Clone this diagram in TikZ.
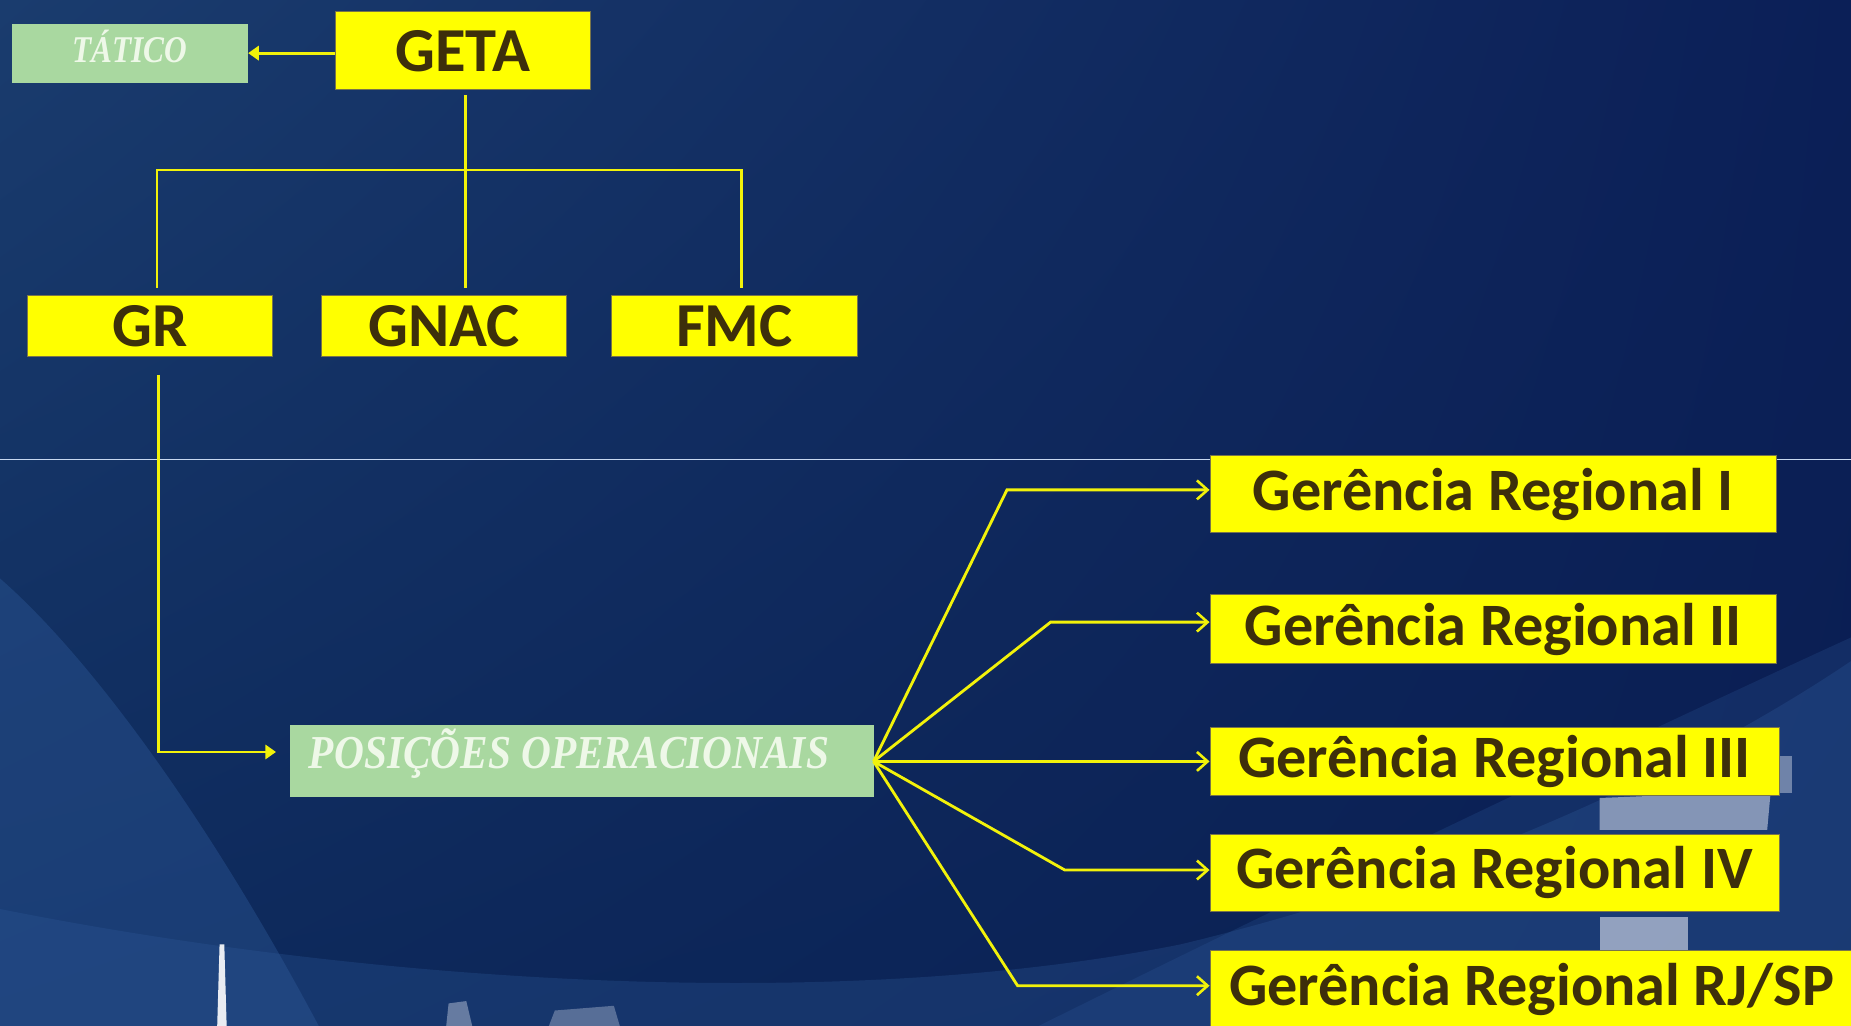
\documentclass[tikz,border=0pt]{standalone}
\usepackage{fontspec}
\setmainfont{Carlito}
\newfontfamily\serifit{Liberation Serif}
\usetikzlibrary{arrows.meta,shadings}
\definecolor{bgA}{HTML}{1A3C6E}
\definecolor{bgB}{HTML}{0B1F57}
\definecolor{bgC}{HTML}{0D2A5C}
\definecolor{bgD}{HTML}{0A1E52}
\definecolor{boxY}{HTML}{FFFF00}
\definecolor{txtB}{HTML}{3D2F0B}
\definecolor{boxG}{HTML}{A9D8A0}
\definecolor{txtG}{HTML}{EEF8E8}
\definecolor{lineY}{HTML}{F2F20A}
\definecolor{sepL}{HTML}{C8D8F0}
\definecolor{mesh}{HTML}{2E5A9A}
\definecolor{bldg}{HTML}{A8B4CC}
\tikzset{
  ybox/.style={draw=black!60!yellow, line width=0.8pt, fill=boxY, text=txtB, font=\bfseries\fontsize{53}{53}\selectfont, inner sep=0pt, anchor=center},
  gerbox/.style={ybox, font=\bfseries\fontsize{51}{51}\selectfont},
  gbox/.style={fill=boxG, text=txtG, inner sep=0pt, anchor=center},
  conn/.style={draw=lineY, line width=2.4pt},
  chev/.style={conn, -{Straight Barb[length=9pt,width=16pt,line width=2.2pt]}},
  tri/.style={conn, -{Triangle[length=9pt,width=12pt]}}
}
\begin{document}
\begin{tikzpicture}[x=1pt,y=-1pt]
\useasboundingbox (0,0) rectangle (1568,869);
% background
\shade[upper left=bgA, upper right=bgB, lower left=bgC, lower right=bgD] (0,0) rectangle (1568,869);
% decorative swooshes
\fill[mesh, opacity=0.4] (0,490) .. controls (80,560) and (180,700) .. (270,869) -- (0,869) -- cycle;
\fill[mesh, opacity=0.3] (0,770) .. controls (300,830) and (700,860) .. (1000,800) .. controls (1250,740) and (1450,640) .. (1568,560) -- (1568,869) -- (0,869) -- cycle;
\fill[mesh, opacity=0.25] (880,869) .. controls (1100,760) and (1350,640) .. (1568,540) -- (1568,869) -- cycle;
% buildings hints
\fill[bldg, opacity=0.75] (1355,676) -- (1500,670) -- (1497,703) -- (1355,703) -- cycle;
\fill[bldg, opacity=0.85] (1355,777) rectangle (1430,805);
\fill[bldg, opacity=0.6] (1508,640) rectangle (1518,672);
\fill[white, opacity=0.9] (186,800) -- (190,800) -- (192,869) -- (184,869) -- cycle;
\fill[bldg, opacity=0.55] (380,850) -- (395,848) -- (400,869) -- (378,869) -- cycle;
\fill[bldg, opacity=0.45] (470,856) -- (520,852) -- (525,869) -- (465,869) -- cycle;
% separator line
\draw[sepL, line width=1.2pt] (0,389) -- (1568,389);
% nodes
\node[gbox, minimum width=200pt, minimum height=50pt] (tatico) at (110,45) {};
\node[text=txtG, inner sep=0pt] (taticot) at (110,39) {\serifit\bfseries\itshape\fontsize{32}{32}\selectfont\scalebox{0.83}[1]{TÁTICO}};
\node[ybox, minimum width=216pt, minimum height=66pt] (geta) at (392,43) {GETA};
\node[ybox, minimum width=208pt, minimum height=52pt] (gr) at (127,276) {GR};
\node[ybox, minimum width=208pt, minimum height=52pt] (gnac) at (376,276) {GNAC};
\node[ybox, minimum width=208pt, minimum height=52pt] (fmc) at (622,276) {FMC};
\node[gbox, minimum width=494pt, minimum height=61pt] (pos) at (493,644.5) {};
\node[text=txtG, inner sep=0pt] (post) at (482,638) {\serifit\bfseries\itshape\fontsize{40}{40}\selectfont\scalebox{0.875}[1]{POSIÇÕES OPERACIONAIS}};
\node[gerbox, minimum width=480pt, minimum height=65pt] (g1) at (1265,418.5) {Gerência Regional I};
\node[gerbox, minimum width=480pt, minimum height=58pt] (g2) at (1265,533) {Gerência Regional II};
\node[gerbox, minimum width=482pt, minimum height=58pt] (g3) at (1266,645) {Gerência Regional III};
\node[gerbox, minimum width=482pt, minimum height=65pt] (g4) at (1266,739.5) {Gerência Regional IV};
\node[gerbox, minimum width=545pt, minimum height=66pt] (g5) at (1297.5,838) {Gerência Regional RJ/SP};
% coordinates
\coordinate (hub) at (740,645);
\coordinate (b1) at (853,415);
\coordinate (b2) at (890,527);
\coordinate (b4) at (902,737);
\coordinate (b5) at (862,835);
\coordinate (jL) at (133,144);
\coordinate (jM) at (394,144);
\coordinate (jR) at (628,144);
\coordinate (grdown) at (134,637);
% connectors
\draw[tri] (geta.west |- tatico.east) -- (tatico.east);
\draw[conn] ([yshift=-4pt]geta.south -| jM) -- ([yshift=6pt]gnac.north -| jM);
\draw[conn] ([yshift=6pt]gr.north -| jL) -- (jL) -- (jR) -- ([yshift=6pt]fmc.north -| jR);
\draw[tri] ([yshift=-15pt]gr.south -| grdown) -- (grdown) -- ([xshift=-12pt]pos.west |- grdown);
\draw[chev] (hub) -- (b1) -- (g1.west |- b1);
\draw[chev] (hub) -- (b2) -- (g2.west |- b2);
\draw[chev] (hub) -- (g3.west |- hub);
\draw[chev] (hub) -- (b4) -- (g4.west |- b4);
\draw[chev] (hub) -- (b5) -- (g5.west |- b5);
\end{tikzpicture}
\end{document}
